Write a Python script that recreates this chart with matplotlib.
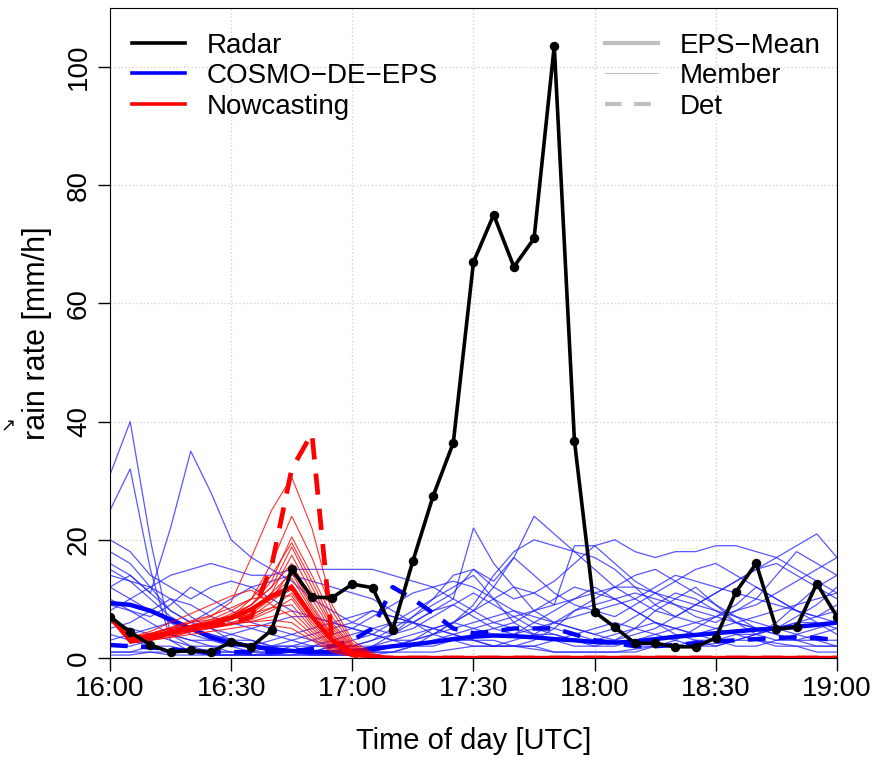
import numpy as np
import pandas as pd
import matplotlib
matplotlib.use('Agg')
import matplotlib.pyplot as plt
import matplotlib.dates as mdates
from matplotlib.lines import Line2D

plt.rcParams['font.family'] = ['Liberation Sans', 'DejaVu Sans']

# 5-minute steps, 16:00 .. 19:00 UTC
times = pd.date_range('2000-01-01 16:00', '2000-01-01 19:00', freq='5min')

# radar rain rate [mm/h]
radar = [7.0, 4.4, 2.2, 1.0, 1.3, 1.0, 2.7, 1.9, 4.7, 15.0, 10.3, 10.2,
         12.5, 11.9, 4.8, 16.4, 27.4, 36.4, 67.0, 75.0, 66.2, 71.0, 103.6, 36.7,
         7.8, 5.2, 2.5, 2.5, 1.9, 1.9, 3.4, 11.2, 16.0, 4.9, 5.2, 12.6,
         7.0]

# COSMO-DE-EPS members (rows: 16:00-16:55, 17:00-17:55, 18:00-18:55, 19:00)
eps_members = [
    [31, 40, 20, 4, 2, 1, 1, 0.5, 0.5, 1, 1, 2,
     3, 4, 6, 8, 10, 12, 14, 10, 6, 4, 3, 2,
     2, 3, 5, 8, 10, 12, 9, 6, 4, 3, 3, 4,
     5],
    [25, 32, 15, 3, 1, 0.5, 0.5, 1, 2, 3, 4, 5,
     6, 8, 7, 6, 8, 10, 22, 16, 12, 8, 6, 5,
     4, 3, 2, 2, 3, 5, 7, 9, 12, 10, 8, 6,
     4],
    [12, 14, 11, 22, 35, 28, 20, 17, 15, 13, 10, 8,
     6, 5, 4, 6, 8, 9, 7, 5, 4, 6, 8, 10,
     12, 10, 8, 6, 4, 3, 2, 3, 4, 6, 9, 12,
     14],
    [20, 18, 14, 12, 10, 12, 13, 12, 10, 8, 7, 6,
     5, 4, 3, 2, 4, 6, 8, 12, 17, 24, 21, 18,
     15, 12, 10, 8, 7, 9, 11, 13, 15, 17, 19, 21,
     17],
    [18, 16, 12, 8, 6, 5, 4, 3, 2, 1, 0.5, 0.5,
     1, 2, 4, 7, 10, 14, 15, 12, 10, 11, 13, 16,
     19, 20, 18, 17, 18, 18, 19, 19, 18, 17, 15, 13,
     11],
    [15, 13, 12, 14, 15, 16, 15, 14, 14, 15, 15, 15,
     15, 15, 14, 13, 12, 10, 8, 6, 5, 4, 4, 3,
     3, 4, 5, 6, 5, 4, 3, 2, 2, 3, 4, 5,
     6],
    [10, 8, 7, 9, 12, 10, 8, 6, 5, 4, 3, 2,
     2, 3, 5, 7, 9, 11, 15, 13, 17, 14, 11, 9,
     8, 7, 9, 11, 13, 15, 16, 14, 12, 10, 8, 7,
     9],
    [5, 6, 8, 10, 9, 7, 6, 5, 4, 3, 2, 2,
     1, 1, 2, 3, 5, 6, 8, 10, 12, 11, 9, 19,
     19, 16, 13, 11, 9, 7, 6, 8, 10, 14, 18, 16,
     14],
    [3, 4, 5, 6, 5, 4, 3, 3, 2, 2, 1, 1,
     1, 2, 3, 4, 5, 6, 5, 4, 4, 5, 6, 7,
     8, 9, 10, 12, 14, 13, 12, 11, 10, 9, 8, 7,
     6],
    [8, 10, 12, 10, 7, 5, 3, 2, 1, 1, 0.5, 0.5,
     0.5, 1, 1, 2, 3, 3, 4, 5, 6, 8, 10, 12,
     11, 10, 8, 6, 5, 4, 5, 6, 7, 8, 9, 10,
     11],
    [2, 2, 3, 4, 3, 2, 2, 1, 1, 2, 3, 4,
     5, 7, 9, 11, 12, 13, 12, 10, 8, 6, 5, 4,
     3, 3, 4, 5, 7, 9, 11, 13, 15, 16, 14, 12,
     10],
    [12, 10, 8, 6, 4, 3, 2, 2, 3, 4, 5, 6,
     7, 8, 7, 6, 5, 4, 3, 2, 2, 3, 5, 8,
     10, 12, 14, 15, 13, 11, 9, 7, 5, 4, 3, 3,
     2],
    [6, 5, 4, 3, 2, 2, 1, 1, 1, 1, 1, 2,
     2, 3, 4, 5, 7, 9, 11, 9, 7, 5, 4, 3,
     2, 2, 3, 4, 5, 6, 7, 8, 9, 11, 13, 15,
     17],
    [1, 1, 2, 2, 1, 1, 1, 0.5, 0.5, 0.5, 1, 1,
     1, 2, 2, 3, 4, 5, 6, 7, 8, 7, 6, 5,
     4, 5, 7, 9, 11, 10, 8, 6, 5, 4, 3, 2,
     2],
    [4, 3, 2, 1, 1, 0.5, 0.5, 0.5, 1, 1, 2, 3,
     4, 5, 6, 6, 5, 4, 3, 2, 2, 2, 3, 4,
     5, 6, 5, 4, 3, 2, 2, 3, 4, 5, 7, 9,
     12],
    [16, 14, 11, 8, 6, 8, 10, 12, 13, 14, 13, 12,
     11, 10, 8, 6, 4, 3, 2, 2, 3, 4, 6, 8,
     9, 10, 11, 10, 9, 8, 7, 6, 5, 5, 6, 7,
     8],
    [0.5, 0.5, 1, 1, 1, 0.5, 0.5, 0.5, 0.5, 0.5, 0.5, 0.5,
     0.5, 1, 1, 2, 3, 4, 5, 6, 7, 8, 9, 10,
     11, 12, 12, 11, 10, 9, 8, 7, 6, 5, 4, 3,
     3],
    [9, 8, 6, 4, 3, 3, 4, 5, 6, 7, 7, 6,
     5, 4, 3, 3, 4, 6, 9, 14, 18, 20, 19, 18,
     17, 15, 12, 9, 7, 6, 5, 4, 4, 5, 6, 6,
     5],
    [14, 13, 10, 7, 5, 4, 3, 2, 2, 2, 2, 2,
     2, 2, 2, 2, 2, 3, 3, 3, 2, 2, 1, 1,
     1, 1, 1, 2, 2, 3, 3, 4, 3, 2, 2, 1,
     1],
    [1, 1, 1, 0.5, 0.5, 0.5, 0.5, 0.5, 0.5, 0.5, 0.5, 0.5,
     0.5, 0.5, 1, 1, 1, 1.5, 2, 2, 2, 1.5, 1, 1,
     1, 1, 1.5, 2, 2, 2, 2.5, 3, 3, 2.5, 2, 2,
     2],
]

eps_mean = [9.3, 9.0, 8.0, 6.5, 5.0, 3.5, 2.5, 2.0, 1.5, 1.2, 1.0, 1.0,
            1.2, 1.5, 2.0, 2.3, 2.7, 3.2, 3.6, 3.8, 3.7, 3.5, 3.2, 3.0,
            2.7, 2.6, 2.8, 3.2, 3.6, 3.9, 4.2, 4.5, 4.8, 5.0, 5.3, 5.6,
            6.0]

eps_det = [2.2, 2.0, 1.8, 1.5, 1.2, 1.0, 1.0, 1.0, 1.0, 1.2, 1.5, 2.0,
           3.0, 5.0, 12.0, 10.0, 7.6, 5.0, 4.2, 4.5, 5.0, 5.0, 5.0, 4.0,
           3.0, 2.5, 2.0, 2.0, 2.2, 2.5, 2.8, 3.0, 3.2, 3.4, 3.5, 3.4,
           3.0]

# Nowcasting members 16:00 .. 17:10, zero afterwards
nwc_members = [
    [7, 3.5, 4, 5, 6, 7, 9.5, 17, 25, 30.6, 22, 9, 3, 0.8, 0],
    [7, 3, 3.5, 4.5, 5.5, 6, 7, 10, 16, 24, 17, 8, 2.5, 0.6, 0],
    [7, 3, 3.5, 4, 5, 6, 7.5, 9, 13, 20.5, 14, 7, 2.2, 0.5, 0],
    [7, 2.8, 3.2, 4.5, 5.5, 6.5, 8, 10, 14, 19.5, 13, 6, 2, 0.4, 0],
    [7, 3.2, 4, 5, 6, 6.5, 7, 9, 12, 18.8, 12, 5.5, 1.8, 0.4, 0],
    [7, 3, 3.8, 4.5, 5, 5.5, 6.5, 8, 11, 17.4, 11, 5, 1.6, 0.3, 0],
    [7, 2.6, 3, 4, 5, 6, 7, 9, 12, 16, 10, 4.5, 1.4, 0.3, 0],
    [7, 3.4, 4.2, 5, 5.5, 6, 6.5, 7.5, 10, 15, 9, 4, 1.3, 0.3, 0],
    [7, 2.5, 3, 3.5, 4.5, 5.5, 6.5, 8, 11, 14.4, 8.5, 3.8, 1.2, 0.2, 0],
    [7, 3, 3.6, 4.2, 5, 5.8, 6.8, 8.5, 10.5, 13.5, 8, 3.5, 1.1, 0.2, 0],
    [7, 2.7, 3.3, 4, 4.8, 5.5, 6, 7, 9.5, 12.5, 7.5, 3.2, 1, 0.2, 0],
    [7, 3.1, 3.7, 4.4, 5.2, 6.2, 7.2, 8.5, 10, 11.5, 7, 3, 0.9, 0.2, 0],
    [7, 2.9, 3.4, 4.1, 4.6, 5.2, 5.8, 6.8, 8.5, 11, 6.5, 2.7, 0.8, 0.1, 0],
    [7, 3.3, 4.1, 5.2, 6.3, 7.2, 8.5, 10, 10.5, 10.5, 6, 2.5, 0.7, 0.1, 0],
    [7, 2.6, 3.1, 3.8, 4.4, 5, 5.6, 6.5, 8, 10, 5.5, 2.2, 0.6, 0.1, 0],
    [7, 3, 3.5, 4.3, 5.1, 5.9, 6.6, 7.5, 8.5, 9, 5, 2, 0.5, 0.1, 0],
    [7, 2.8, 3.3, 3.9, 4.5, 5.1, 5.7, 6.2, 7, 8, 4.5, 1.8, 0.5, 0.1, 0],
    [7, 3.5, 4.5, 6, 7.5, 9, 10.5, 11.5, 9, 7, 4, 1.5, 0.4, 0.1, 0],
    [7, 3, 3.6, 4.2, 4.8, 5.3, 5.8, 6.1, 6.4, 6, 3.5, 1.2, 0.3, 0, 0],
    [7, 2.5, 3, 3.5, 4, 4.5, 5, 5.5, 5.5, 5, 3, 1, 0.3, 0, 0],
]
nwc_mean = [7, 3, 3.6, 4.4, 5.2, 5.9, 6.8, 8.2, 10.5, 12, 7, 3, 0.9, 0.2, 0]
nwc_det = [7, 3, 3.5, 4.5, 5, 5.5, 6, 7, 15.5, 32, 38, 3, 0.5, 0, 0]


def full(vals):
    return np.r_[vals, np.zeros(len(times) - len(vals))]


fig = plt.figure(figsize=(8.89, 7.6), dpi=100)
ax = fig.add_axes([0.1237, 0.1342, 0.8178, 0.8553])

for m in eps_members:
    ax.plot(times, m, color='#2020ff', lw=0.9, alpha=0.75)
ax.plot(times, eps_mean, color='blue', lw=3.2)
ax.plot(times, eps_det, color='blue', lw=3.2, ls=(0, (4, 3)))

for m in nwc_members:
    ax.plot(times, full(m), color='red', lw=0.8, alpha=0.8)
ax.plot(times, full(nwc_mean), color='red', lw=3.2)
ax.plot(times, full(nwc_det), color='red', lw=3.4, ls=(0, (4.5, 3)))

ax.plot(times, radar, color='black', lw=2.6, marker='o', ms=5.8)

ax.set_xlim(times[0], times[-1])
ax.set_ylim(0, 110)
ax.xaxis.set_major_locator(mdates.MinuteLocator(byminute=[0, 30]))
ax.xaxis.set_major_formatter(mdates.DateFormatter('%H:%M'))
ax.set_yticks([0, 20, 40, 60, 80, 100])
ax.grid(True, ls=':', color='lightgray', lw=1)
ax.set_axisbelow(True)
ax.tick_params(labelsize=20, length=9, width=1, pad=4)
for lab in ax.get_yticklabels():
    lab.set_rotation(90)
    lab.set_va('center')
ax.set_xlabel('Time of day [UTC]', fontsize=21, labelpad=18)
ax.set_ylabel('rain rate [mm/h]', fontsize=22, labelpad=10)

h1 = [Line2D([], [], color=c, lw=2.6) for c in ['black', 'blue', 'red']]
leg1 = ax.legend(h1, ['Radar', 'COSMO\u2212DE\u2212EPS', 'Nowcasting'],
                 loc='upper left', bbox_to_anchor=(0.03, 0.962), frameon=False,
                 fontsize=20, handlelength=1.9, handletextpad=0.8,
                 labelspacing=0.16, borderpad=0, borderaxespad=0)
ax.add_artist(leg1)
grey = '#c0c0c0'
h2 = [Line2D([], [], color=grey, lw=3),
      Line2D([], [], color=grey, lw=0.8),
      Line2D([], [], color=grey, lw=3, ls=(0, (4, 3)))]
ax.legend(h2, ['EPS\u2212Mean', 'Member', 'Det'],
          loc='upper left', bbox_to_anchor=(0.681, 0.962), frameon=False,
          fontsize=20, handlelength=1.9, handletextpad=0.8,
          labelspacing=0.16, borderpad=0, borderaxespad=0)

fig.text(0.001, 1 - 426 / 760, '\u2197', fontsize=13, va='center', ha='left',
         family='DejaVu Sans')

fig.savefig('out.png', dpi=100)
